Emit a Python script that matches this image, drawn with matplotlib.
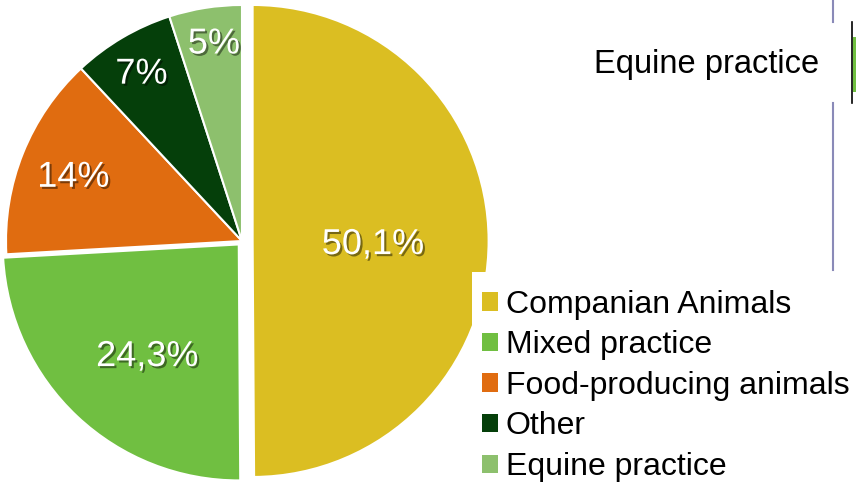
import matplotlib
matplotlib.use("Agg")
import numpy as np
import matplotlib.pyplot as plt
import matplotlib.patheffects as pe
from matplotlib.patches import Rectangle, Patch
from matplotlib.lines import Line2D

plt.rcParams['font.family'] = ['Liberation Sans', 'DejaVu Sans']

categories = ['Companian Animals', 'Mixed practice', 'Food-producing animals', 'Other', 'Equine practice']
shares = [50.1, 24.3, 14.0, 7.0, 5.0]
share_labels = ['50,1%', '24,3%', '14%', '7%', '5%']
colors = ['#DBBE22', '#70BF41', '#E06C10', '#053F0A', '#8DC06D']
explode = [0.045, 0.02, 0, 0, 0]
label_dist = [0.51, 0.60, 0.77, 0.84, 0.86]
label_turn = [0, 3, 0, 0, -1]   # small angular nudge of labels, degrees

W, H = 856, 482
fig = plt.figure(figsize=(W / 100, H / 100), dpi=100)
ax = fig.add_axes([0, 0, 1, 1])

# pie centre and radius in pixels
cx, cy, r = 242, 241, 236

wedges, _ = ax.pie(shares, colors=colors, startangle=90, counterclock=False,
                   explode=explode, radius=1,
                   wedgeprops=dict(edgecolor='white', linewidth=1.5))

shadow = [pe.SimplePatchShadow(offset=(1.5, -1.5), shadow_rgbFace='black', alpha=0.45), pe.Normal()]
for w, lab, d, t in zip(wedges, share_labels, label_dist, label_turn):
    ang = np.deg2rad((w.theta1 + w.theta2) / 2 + t)
    ox, oy = w.center
    ax.text(ox + d * np.cos(ang), oy + d * np.sin(ang) - 4 / r, lab, color='white',
            fontsize=26, ha='center', va='center', path_effects=shadow)

ax.set_xlim(-cx / r, (W - cx) / r)
ax.set_ylim(-(H - cy) / r, cy / r)
ax.set_aspect('auto')
ax.axis('off')

# white box behind legend, covering part of the pie
fig.add_artist(Rectangle((472 / W, 0), (W - 472) / W, (H - 272) / H,
                         transform=fig.transFigure, facecolor='white',
                         edgecolor='none', zorder=5))

handles = [Patch(facecolor=c, edgecolor='none') for c in colors]
leg = fig.legend(handles, categories, loc='upper left',
                 bbox_to_anchor=(469 / W, 1 - 277 / H), frameon=False,
                 fontsize=23, handlelength=0.5, handleheight=0.5,
                 handletextpad=0.25, labelspacing=0.33, borderaxespad=0)
leg.set_zorder(6)

# stray tooltip fragment at top right
fig.add_artist(Line2D([833 / W, 833 / W], [1, 1 - 22 / H], transform=fig.transFigure,
                      color='#8A8AB8', linewidth=1.5))
fig.add_artist(Line2D([833 / W, 833 / W], [1 - 103 / H, 1 - 270 / H], transform=fig.transFigure,
                      color='#8A8AB8', linewidth=1.5))
fig.add_artist(Line2D([852 / W, 852 / W], [1 - 22 / H, 1 - 103 / H], transform=fig.transFigure,
                      color='black', linewidth=1.2))
fig.add_artist(Rectangle((853 / W, 1 - 92 / H), 3 / W, 55 / H, transform=fig.transFigure,
                         facecolor='#70BF41', edgecolor='none'))
fig.text(594 / W, 1 - 65 / H, 'Equine practice', fontsize=23.5, ha='left', va='center')

fig.savefig('out.png', dpi=100)
